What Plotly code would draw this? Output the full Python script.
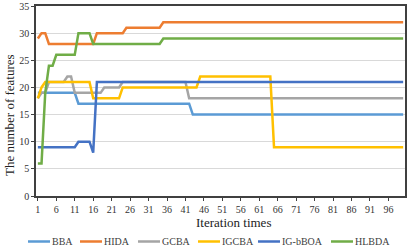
import plotly.graph_objects as go

iterations = list(range(1, 101))
tick_vals = [1, 6, 11, 16, 21, 26, 31, 36, 41, 46, 51, 56, 61, 66, 71, 76, 81, 86, 91, 96]
tick_text = ["1", "6", "11", "16", "21", "26", "31", "36", "41", "46", "51", "56", "61", "66", "71", "76", "81", "86", "91", "96"]

bba = [19, 19, 19, 19, 19, 19, 19, 19, 19, 19,
       19, 17, 17, 17, 17, 17, 17, 17, 17, 17,
       17, 17, 17, 17, 17, 17, 17, 17, 17, 17,
       17, 17, 17, 17, 17, 17, 17, 17, 17, 17,
       17, 17, 15, 15, 15, 15, 15, 15, 15, 15,
       15, 15, 15, 15, 15, 15, 15, 15, 15, 15,
       15, 15, 15, 15, 15, 15, 15, 15, 15, 15,
       15, 15, 15, 15, 15, 15, 15, 15, 15, 15,
       15, 15, 15, 15, 15, 15, 15, 15, 15, 15,
       15, 15, 15, 15, 15, 15, 15, 15, 15, 15]

hida = [29, 30, 30, 28, 28, 28, 28, 28, 28, 28,
        28, 28, 28, 28, 28, 28, 30, 30, 30, 30,
        30, 30, 30, 30, 31, 31, 31, 31, 31, 31,
        31, 31, 31, 31, 32, 32, 32, 32, 32, 32,
        32, 32, 32, 32, 32, 32, 32, 32, 32, 32,
        32, 32, 32, 32, 32, 32, 32, 32, 32, 32,
        32, 32, 32, 32, 32, 32, 32, 32, 32, 32,
        32, 32, 32, 32, 32, 32, 32, 32, 32, 32,
        32, 32, 32, 32, 32, 32, 32, 32, 32, 32,
        32, 32, 32, 32, 32, 32, 32, 32, 32, 32]

gcba = [18, 19, 19, 21, 21, 21, 21, 21, 22, 22,
        19, 19, 19, 19, 19, 19, 19, 19, 20, 20,
        20, 20, 20, 21, 21, 21, 21, 21, 21, 21,
        21, 21, 21, 21, 21, 21, 21, 21, 21, 21,
        21, 18, 18, 18, 18, 18, 18, 18, 18, 18,
        18, 18, 18, 18, 18, 18, 18, 18, 18, 18,
        18, 18, 18, 18, 18, 18, 18, 18, 18, 18,
        18, 18, 18, 18, 18, 18, 18, 18, 18, 18,
        18, 18, 18, 18, 18, 18, 18, 18, 18, 18,
        18, 18, 18, 18, 18, 18, 18, 18, 18, 18]

igcba = [18, 20, 21, 21, 21, 21, 21, 21, 21, 21,
         21, 21, 21, 21, 21, 18, 18, 18, 18, 18,
         18, 18, 18, 20, 20, 20, 20, 20, 20, 20,
         20, 20, 20, 20, 20, 20, 20, 20, 20, 20,
         20, 20, 20, 20, 22, 22, 22, 22, 22, 22,
         22, 22, 22, 22, 22, 22, 22, 22, 22, 22,
         22, 22, 22, 22, 9, 9, 9, 9, 9, 9,
         9, 9, 9, 9, 9, 9, 9, 9, 9, 9,
         9, 9, 9, 9, 9, 9, 9, 9, 9, 9,
         9, 9, 9, 9, 9, 9, 9, 9, 9, 9]

ig_bboa = [9, 9, 9, 9, 9, 9, 9, 9, 9, 9,
           9, 10, 10, 10, 10, 8, 21, 21, 21, 21,
           21, 21, 21, 21, 21, 21, 21, 21, 21, 21,
           21, 21, 21, 21, 21, 21, 21, 21, 21, 21,
           21, 21, 21, 21, 21, 21, 21, 21, 21, 21,
           21, 21, 21, 21, 21, 21, 21, 21, 21, 21,
           21, 21, 21, 21, 21, 21, 21, 21, 21, 21,
           21, 21, 21, 21, 21, 21, 21, 21, 21, 21,
           21, 21, 21, 21, 21, 21, 21, 21, 21, 21,
           21, 21, 21, 21, 21, 21, 21, 21, 21, 21]

hlbda = [6, 6, 19, 24, 24, 26, 26, 26, 26, 26,
         26, 30, 30, 30, 30, 28, 28, 28, 28, 28,
         28, 28, 28, 28, 28, 28, 28, 28, 28, 28,
         28, 28, 28, 28, 29, 29, 29, 29, 29, 29,
         29, 29, 29, 29, 29, 29, 29, 29, 29, 29,
         29, 29, 29, 29, 29, 29, 29, 29, 29, 29,
         29, 29, 29, 29, 29, 29, 29, 29, 29, 29,
         29, 29, 29, 29, 29, 29, 29, 29, 29, 29,
         29, 29, 29, 29, 29, 29, 29, 29, 29, 29,
         29, 29, 29, 29, 29, 29, 29, 29, 29, 29]

series_names = ["BBA", "HIDA", "GCBA", "IGCBA", "IG-bBOA", "HLBDA"]
series_values = [bba, hida, gcba, igcba, ig_bboa, hlbda]
series_colors = ["#5B9BD5", "#ED7D31", "#A5A5A5", "#FFC000", "#4472C4", "#70AD47"]

FONT = "Liberation Serif, Times New Roman, serif"

W, H = 410, 248
ML, MR, MT, MB = 36, 5, 6, 52
PW, PH = W - ML - MR, H - MT - MB


def px_x(px):
    return (px - ML) / PW


def px_y(py):
    return (H - MB - py) / PH


fig = go.Figure()
for name, vals, color in zip(series_names, series_values, series_colors):
    fig.add_trace(go.Scatter(x=iterations, y=vals, mode="lines", name=name,
                             line=dict(color=color, width=2.5), showlegend=False))

# legend drawn as short line samples + labels (Excel-style compact legend)
legend_line_start = [28, 80, 138, 198, 258, 331]
legend_line_len = 22
legend_y = 241.5
shapes = []
annotations = []
for name, color, x0 in zip(series_names, series_colors, legend_line_start):
    shapes.append(dict(type="line", xref="paper", yref="paper",
                       x0=px_x(x0), x1=px_x(x0 + legend_line_len),
                       y0=px_y(legend_y), y1=px_y(legend_y),
                       line=dict(color=color, width=2.5)))
    annotations.append(dict(text=name, xref="paper", yref="paper",
                            x=px_x(x0 + legend_line_len), y=px_y(legend_y),
                            xanchor="left", yanchor="middle", showarrow=False,
                            font=dict(family=FONT, size=10, color="#404040")))

annotations.append(dict(text="Iteration times", xref="paper", yref="paper",
                        x=px_x(233), y=px_y(222), xanchor="center", yanchor="middle",
                        showarrow=False, font=dict(family=FONT, size=13, color="#222222")))
annotations.append(dict(text="The number of features", xref="paper", yref="paper",
                        x=px_x(9), y=px_y(115), xanchor="center", yanchor="middle",
                        textangle=-90, showarrow=False,
                        font=dict(family=FONT, size=13, color="#222222")))

fig.update_layout(
    width=W, height=H,
    margin=dict(l=ML, r=MR, t=MT, b=MB, autoexpand=False),
    paper_bgcolor="white", plot_bgcolor="white",
    font=dict(family=FONT, size=10, color="#333333"),
    showlegend=False,
    xaxis=dict(range=[0.5, 100.5], tickmode="array", tickvals=tick_vals, ticktext=tick_text,
               showgrid=False, zeroline=False, showline=True, linecolor="#404040", linewidth=1.5,
               mirror=True, ticks="outside", ticklen=3, tickcolor="#404040",
               tickfont=dict(family=FONT, size=10, color="#333333")),
    yaxis=dict(range=[0, 35], tickmode="array", tickvals=[0, 5, 10, 15, 20, 25, 30, 35],
               showgrid=True, gridcolor="#D9D9D9", gridwidth=1, zeroline=False,
               showline=True, linecolor="#404040", linewidth=1.5, mirror=True,
               ticks="outside", ticklen=3, tickcolor="#404040",
               tickfont=dict(family=FONT, size=10, color="#333333")),
    shapes=shapes,
    annotations=annotations,
)

fig.write_html("out.html", config={"displayModeBar": False},
               post_script="document.body.style.margin='0';")
